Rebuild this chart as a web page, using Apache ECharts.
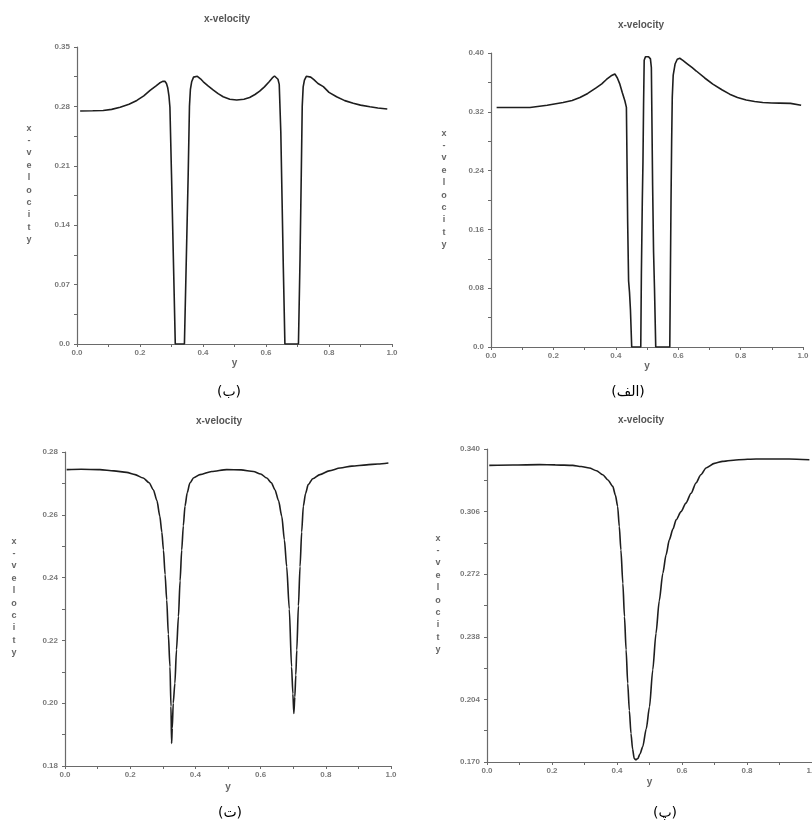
<!DOCTYPE html>
<html>
<head>
<meta charset="utf-8">
<script src="https://cdn.jsdelivr.net/npm/echarts@6/dist/echarts.min.js"></script>
<style>
html,body{margin:0;padding:0;background:#fff;}
#chart{width:812px;height:821px;}
</style>
</head>
<body>
<div id="chart"></div>
<script>
// ---- data (x = y-coordinate, value = x-velocity) ----
const captions = ['(ب)', '(الف)', '(ت)', '(پ)'];
const panelTitle = 'x-velocity';
const yAxisTitle = 'x\n-\nv\ne\nl\no\nc\ni\nt\ny';
const xAxisTitle = 'y';

// (ب) top-left
const seriesB = [[0.01,0.2745],[0.05,0.2748],[0.083,0.2752],[0.11,0.2765],[0.137,0.279],[0.165,0.2825],[0.19,0.287],[0.212,0.2925],[0.232,0.299],[0.25,0.304],[0.262,0.3075],[0.272,0.3095],[0.279,0.3097],[0.284,0.307],[0.288,0.302],[0.292,0.292],[0.295,0.279],[0.300,0.2],[0.306,0.1],[0.312,0.0],[0.341,0.0],[0.347,0.1],[0.353,0.2],[0.357,0.28],[0.36,0.3],[0.364,0.309],[0.37,0.3145],[0.376,0.316],[0.382,0.3155],[0.392,0.3125],[0.401,0.309],[0.417,0.304],[0.433,0.2993],[0.448,0.295],[0.464,0.2914],[0.485,0.2885],[0.507,0.2875],[0.53,0.2885],[0.548,0.2905],[0.565,0.294],[0.58,0.298],[0.595,0.303],[0.61,0.309],[0.62,0.3135],[0.627,0.3158],[0.632,0.315],[0.638,0.312],[0.642,0.306],[0.647,0.25],[0.651,0.17],[0.655,0.09],[0.66,0.0],[0.703,0.0],[0.708,0.1],[0.712,0.2],[0.715,0.28],[0.718,0.303],[0.722,0.311],[0.728,0.3155],[0.734,0.316],[0.742,0.3145],[0.752,0.3115],[0.765,0.307],[0.782,0.3033],[0.8,0.2965],[0.824,0.2914],[0.85,0.2868],[0.877,0.2836],[0.9,0.2815],[0.93,0.2795],[0.955,0.2782],[0.985,0.277]];

// (الف) top-right
const seriesAlef = [[0.018,0.3258],[0.07,0.3258],[0.125,0.3258],[0.18,0.329],[0.231,0.3326],[0.26,0.3355],[0.285,0.3394],[0.31,0.345],[0.338,0.353],[0.355,0.358],[0.37,0.364],[0.385,0.369],[0.397,0.3715],[0.405,0.366],[0.413,0.3576],[0.421,0.346],[0.429,0.335],[0.434,0.326],[0.436,0.25],[0.438,0.17],[0.441,0.09],[0.444,0.074],[0.447,0.05],[0.451,0.0],[0.48,0.0],[0.482,0.1],[0.485,0.2],[0.487,0.25],[0.489,0.33],[0.491,0.39],[0.495,0.395],[0.505,0.395],[0.511,0.392],[0.514,0.38],[0.516,0.3],[0.518,0.22],[0.521,0.13],[0.524,0.08],[0.528,0.0],[0.573,0.0],[0.575,0.1],[0.577,0.2],[0.579,0.28],[0.581,0.34],[0.584,0.37],[0.59,0.385],[0.597,0.3915],[0.605,0.3928],[0.615,0.39],[0.63,0.385],[0.645,0.38],[0.658,0.3755],[0.685,0.366],[0.711,0.3576],[0.74,0.35],[0.765,0.344],[0.79,0.3395],[0.818,0.336],[0.845,0.334],[0.871,0.3326],[0.9,0.332],[0.925,0.3318],[0.96,0.3315],[0.994,0.329]];

// (ت) bottom-left
const seriesTe = [[0.005,0.2744],[0.05,0.2745],[0.107,0.2744],[0.15,0.274],[0.189,0.2735],[0.215,0.2728],[0.24,0.2717],[0.258,0.2702],[0.271,0.268],[0.282,0.2645],[0.291,0.2595],[0.297,0.2545],[0.302,0.2488],[0.307,0.241],[0.312,0.2329],[0.317,0.222],[0.322,0.2116],[0.325,0.199],[0.327,0.1872],[0.329,0.192],[0.332,0.2],[0.337,0.2063],[0.342,0.217],[0.348,0.2276],[0.353,0.239],[0.358,0.2488],[0.363,0.2565],[0.368,0.2627],[0.375,0.267],[0.383,0.2701],[0.395,0.2718],[0.414,0.2728],[0.45,0.2738],[0.496,0.2744],[0.54,0.2743],[0.578,0.2738],[0.6,0.273],[0.619,0.2717],[0.633,0.2702],[0.644,0.268],[0.655,0.2645],[0.665,0.2595],[0.673,0.252],[0.68,0.2435],[0.688,0.23],[0.695,0.2116],[0.699,0.203],[0.702,0.1967],[0.705,0.202],[0.708,0.209],[0.711,0.2169],[0.716,0.231],[0.721,0.2435],[0.726,0.2545],[0.731,0.2627],[0.738,0.2668],[0.746,0.2696],[0.76,0.2715],[0.782,0.2728],[0.81,0.274],[0.844,0.2749],[0.88,0.2755],[0.925,0.2759],[0.96,0.2762],[0.992,0.2765]];

// (پ) bottom-right
const seriesPe = [[0.007,0.3311],[0.08,0.3313],[0.161,0.3315],[0.21,0.3314],[0.264,0.3311],[0.29,0.3305],[0.315,0.3297],[0.337,0.3282],[0.356,0.326],[0.372,0.3232],[0.387,0.3197],[0.395,0.315],[0.402,0.3088],[0.407,0.298],[0.412,0.2852],[0.418,0.267],[0.423,0.249],[0.428,0.231],[0.433,0.2127],[0.438,0.198],[0.443,0.1855],[0.448,0.177],[0.453,0.1719],[0.458,0.1712],[0.464,0.1719],[0.471,0.1745],[0.479,0.1782],[0.49,0.188],[0.5,0.2],[0.51,0.22],[0.52,0.2399],[0.53,0.2575],[0.541,0.2725],[0.551,0.2825],[0.561,0.2907],[0.572,0.2965],[0.582,0.3015],[0.597,0.306],[0.612,0.3106],[0.628,0.316],[0.643,0.3215],[0.658,0.326],[0.674,0.3297],[0.7,0.3322],[0.725,0.3333],[0.775,0.3342],[0.828,0.3346],[0.88,0.3346],[0.93,0.3346],[0.992,0.3342]];

// y-axis ranges: [min, max, interval, decimals]
const yRangeB = [0, 0.35, 0.07, 2];
const yRangeAlef = [0, 0.40, 0.08, 2];
const yRangeTe = [0.18, 0.28, 0.02, 2];
const yRangePe = [0.170, 0.340, 0.034, 3];

// ---- layout ----
const grids = [
  {left: 77, top: 47, width: 315, height: 297, outerBoundsMode: 'none', containLabel: false},
  {left: 491, top: 53, width: 312, height: 294, outerBoundsMode: 'none', containLabel: false},
  {left: 65, top: 452, width: 326, height: 314, outerBoundsMode: 'none', containLabel: false},
  {left: 487, top: 449, width: 325, height: 313, outerBoundsMode: 'none', containLabel: false}
];
const xNameGaps = [18, 18, 21, 20];
const yNamePos = [[29, 184], [444, 189], [14, 597], [438, 594]];
const titlePos = [[227, 19], [641, 25], [219, 421], [641, 420]];
const captionPos = [[229, 392], [628, 392], [230, 813], [665, 813]];
const seriesList = [seriesB, seriesAlef, seriesTe, seriesPe];
const yRanges = [yRangeB, yRangeAlef, yRangeTe, yRangePe];
const smoothFlags = [false, false, 0.25, 0.25];

const fontFam = 'Liberation Sans, Arial, sans-serif';
const axisColor = '#6a6a6a';
const labelStyle = {fontSize: 8, fontWeight: 'bold', color: '#7a7a7a', fontFamily: fontFam};

const xAxes = grids.map((g, i) => ({
  type: 'value', gridIndex: i, min: 0, max: 1, interval: 0.1,
  name: xAxisTitle, nameLocation: 'middle', nameGap: xNameGaps[i],
  nameTextStyle: {fontSize: 10, fontWeight: 'bold', color: '#666', verticalAlign: 'middle', fontFamily: fontFam},
  axisLine: {show: true, onZero: false, lineStyle: {color: axisColor, width: 1.2}},
  axisTick: {show: true, length: 3, lineStyle: {color: axisColor}},
  splitLine: {show: false},
  axisLabel: Object.assign({margin: 5, formatter: v => (Math.round(v * 10) % 2 === 0 ? v.toFixed(1) : '')}, labelStyle)
}));

const yAxes = grids.map((g, i) => {
  const r = yRanges[i];
  return {
    type: 'value', gridIndex: i, min: r[0], max: r[1], interval: r[2],
    axisLine: {show: true, onZero: false, lineStyle: {color: axisColor, width: 1.2}},
    axisTick: {show: true, length: 3, lineStyle: {color: axisColor}},
    minorTick: {show: true, splitNumber: 2, length: 3, lineStyle: {color: axisColor}},
    splitLine: {show: false},
    axisLabel: Object.assign({margin: 7, formatter: v => (Math.abs(v) < 1e-9 ? '0.0' : v.toFixed(r[3]))}, labelStyle)
  };
});

const series = seriesList.map((d, i) => ({
  type: 'line', xAxisIndex: i, yAxisIndex: i, data: d,
  showSymbol: false, symbol: 'none',
  smooth: smoothFlags[i], smoothMonotone: 'x',
  lineStyle: {color: '#1e1e1e', width: 1.6},
  silent: true
}));

const graphics = [];
titlePos.forEach(p => graphics.push({
  type: 'text', x: p[0], y: p[1],
  style: {text: panelTitle, align: 'center', verticalAlign: 'middle', fontSize: 10, fontWeight: 'bold', fill: '#555', fontFamily: fontFam}
}));
yNamePos.forEach(p => graphics.push({
  type: 'text', x: p[0], y: p[1],
  style: {text: yAxisTitle, align: 'center', verticalAlign: 'middle', fontSize: 9, fontWeight: 'bold', lineHeight: 12.4, fill: '#666', fontFamily: fontFam}
}));
captionPos.forEach((p, i) => graphics.push({
  type: 'text', x: p[0], y: p[1],
  style: {text: captions[i], align: 'center', verticalAlign: 'middle', fontSize: 14, fill: '#000', fontFamily: 'DejaVu Sans, Noto Sans, sans-serif'}
}));

const chart = echarts.init(document.getElementById('chart'), null, {renderer: 'canvas'});
chart.setOption({
  animation: false,
  backgroundColor: '#fff',
  grid: grids,
  xAxis: xAxes,
  yAxis: yAxes,
  series: series,
  graphic: graphics
});
</script>
</body>
</html>
